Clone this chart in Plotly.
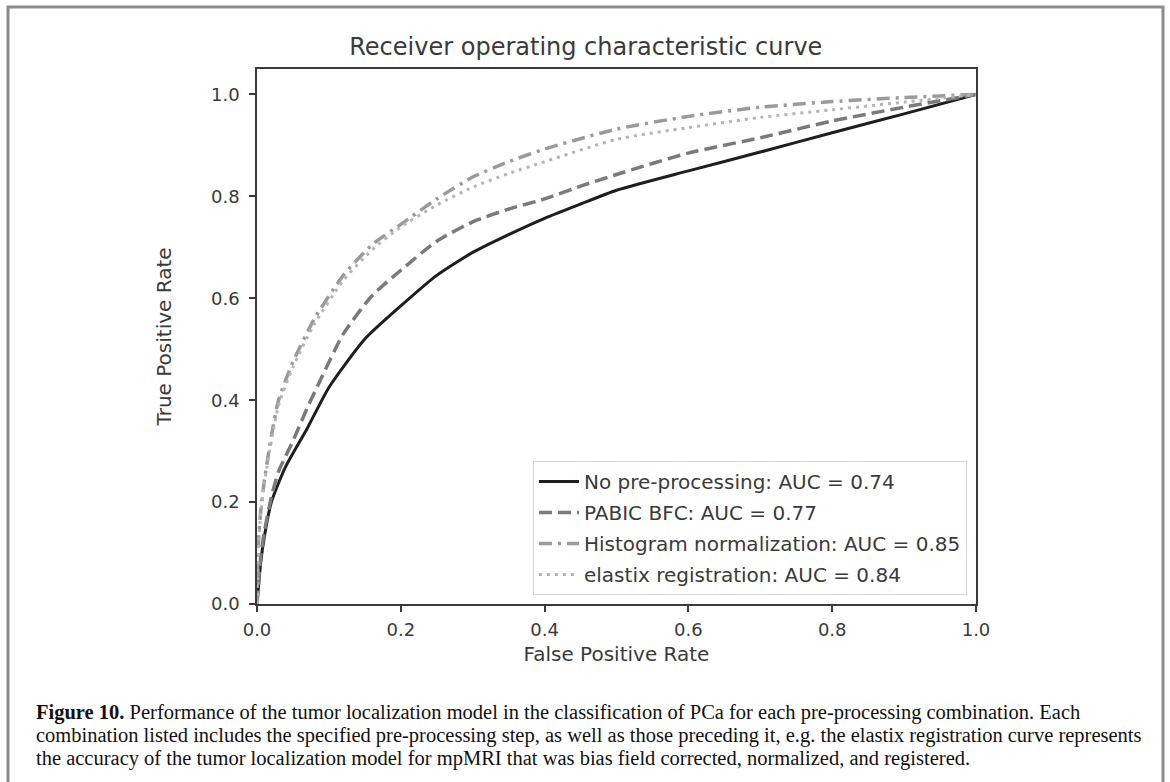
import plotly.graph_objects as go

# ---------------- data ----------------
x_none = [0, 0.005, 0.01, 0.02, 0.04, 0.07, 0.1, 0.15, 0.2, 0.25, 0.3, 0.35, 0.4, 0.45, 0.5, 0.6, 0.7, 0.8, 0.9, 1.0]
y_none = [0, 0.08, 0.13, 0.2, 0.27, 0.345, 0.425, 0.52, 0.585, 0.645, 0.69, 0.725, 0.757, 0.785, 0.812, 0.85, 0.887, 0.925, 0.962, 1.0]

x_pabic = [0, 0.005, 0.01, 0.02, 0.03, 0.05, 0.07, 0.09, 0.12, 0.16, 0.2, 0.25, 0.3, 0.35, 0.4, 0.45, 0.5, 0.6, 0.7, 0.8, 0.9, 1.0]
y_pabic = [0, 0.09, 0.14, 0.21, 0.26, 0.32, 0.385, 0.445, 0.53, 0.605, 0.655, 0.712, 0.75, 0.775, 0.795, 0.82, 0.843, 0.885, 0.915, 0.948, 0.975, 1.0]

x_hist = [0, 0.002, 0.005, 0.01, 0.02, 0.03, 0.05, 0.08, 0.12, 0.16, 0.2, 0.25, 0.3, 0.35, 0.4, 0.5, 0.6, 0.7, 0.8, 0.9, 1.0]
y_hist = [0, 0.12, 0.18, 0.24, 0.33, 0.4, 0.475, 0.56, 0.645, 0.705, 0.745, 0.795, 0.838, 0.868, 0.893, 0.932, 0.957, 0.975, 0.986, 0.994, 1.0]

x_elastix = [0, 0.002, 0.005, 0.01, 0.02, 0.03, 0.05, 0.08, 0.12, 0.16, 0.2, 0.25, 0.3, 0.35, 0.4, 0.5, 0.6, 0.7, 0.8, 0.9, 1.0]
y_elastix = [0, 0.115, 0.175, 0.235, 0.32, 0.39, 0.465, 0.55, 0.635, 0.695, 0.74, 0.783, 0.818, 0.845, 0.868, 0.912, 0.935, 0.955, 0.97, 0.985, 1.0]

series_names = [
    "No pre-processing: AUC = 0.74",
    "PABIC BFC: AUC = 0.77",
    "Histogram normalization: AUC = 0.85",
    "elastix registration: AUC = 0.84",
]
tick_vals = [0.0, 0.2, 0.4, 0.6, 0.8, 1.0]
tick_text = ["0.0", "0.2", "0.4", "0.6", "0.8", "1.0"]

caption_lines = [
    "<b>Figure 10.</b> Performance of the tumor localization model in the classification of PCa for each pre-processing combination. Each",
    "combination listed includes the specified pre-processing step, as well as those preceding it, e.g. the elastix registration curve represents",
    "the accuracy of the tumor localization model for mpMRI that was bias field corrected, normalized, and registered.",
]

# ---------------- layout geometry ----------------
W, H = 1170, 782
L, R, T, B = 257, 194, 69, 178
PW, PH = W - L - R, H - T - B


def px2x(px):
    return (px - L) / PW


def px2y(py):
    return (H - B - py) / PH


FONT = "DejaVu Sans"
TXT = "#3a3a3a"

fig = go.Figure()

styles = [
    dict(color="#1e1e1e", width=3, dash="solid"),
    dict(color="#7a7a7a", width=3.5, dash="13px,6px"),
    dict(color="#9a9a9a", width=3.5, dash="13px,6px,3px,6px"),
    dict(color="#b4b4b4", width=3, dash="3px,5px"),
]
data = [(x_none, y_none), (x_pabic, y_pabic), (x_hist, y_hist), (x_elastix, y_elastix)]

for i, ((xs, ys), nm, st) in enumerate(zip(data, series_names, styles)):
    fig.add_trace(go.Scatter(
        x=xs, y=ys, mode="lines", name=nm, line=dict(shape="spline", smoothing=0.6, **st),
        legendgroup=f"g{i}",
    ))

axis_common = dict(
    showgrid=False, zeroline=False, showline=True, linecolor="#3a3a3a", linewidth=1.5,
    mirror=True, ticks="outside", ticklen=6, tickwidth=1.5, tickcolor="#3a3a3a",
    tickvals=tick_vals, ticktext=tick_text,
    tickfont=dict(family=FONT, size=18, color=TXT),
)

fig.update_layout(
    width=W, height=H,
    margin=dict(l=L, r=R, t=T, b=B),
    paper_bgcolor="white", plot_bgcolor="white",
    title=dict(text="Receiver operating characteristic curve", x=px2x(617), xanchor="center",
               y=1 - 47 / H, yanchor="middle",
               font=dict(family=FONT, size=24, color=TXT)),
    xaxis=dict(range=[0, 1.0], title=dict(text="False Positive Rate", font=dict(family=FONT, size=20, color=TXT), standoff=8),
               ticklabelstandoff=3, **axis_common),
    yaxis=dict(range=[0, 1.05], title=dict(text="True Positive Rate", font=dict(family=FONT, size=20, color=TXT), standoff=34),
               ticklabelstandoff=6, **axis_common),
    legend=dict(
        x=px2x(967), xanchor="right", y=px2y(595), yanchor="bottom",
        bgcolor="white", bordercolor="#d4d4d4", borderwidth=1,
        font=dict(family=FONT, size=20, color=TXT), tracegroupgap=2,
        itemwidth=40,
    ),
    showlegend=True,
)

# outer frame (open at the bottom, as in the reference crop)
fig.add_shape(type="rect", xref="paper", yref="paper",
              x0=px2x(8), x1=px2x(1163), y0=px2y(820), y1=px2y(7),
              line=dict(color="#8c8c8c", width=3), fillcolor="rgba(0,0,0,0)", layer="below")

# caption
for k, line in enumerate(caption_lines):
    fig.add_annotation(
        text=line, xref="paper", yref="paper", x=px2x(34), y=px2y(712 + 23 * k),
        xanchor="left", yanchor="middle", showarrow=False, align="left",
        font=dict(family="Liberation Serif", size=20.5, color="#111111"),
    )

fig.write_html("out.html")
